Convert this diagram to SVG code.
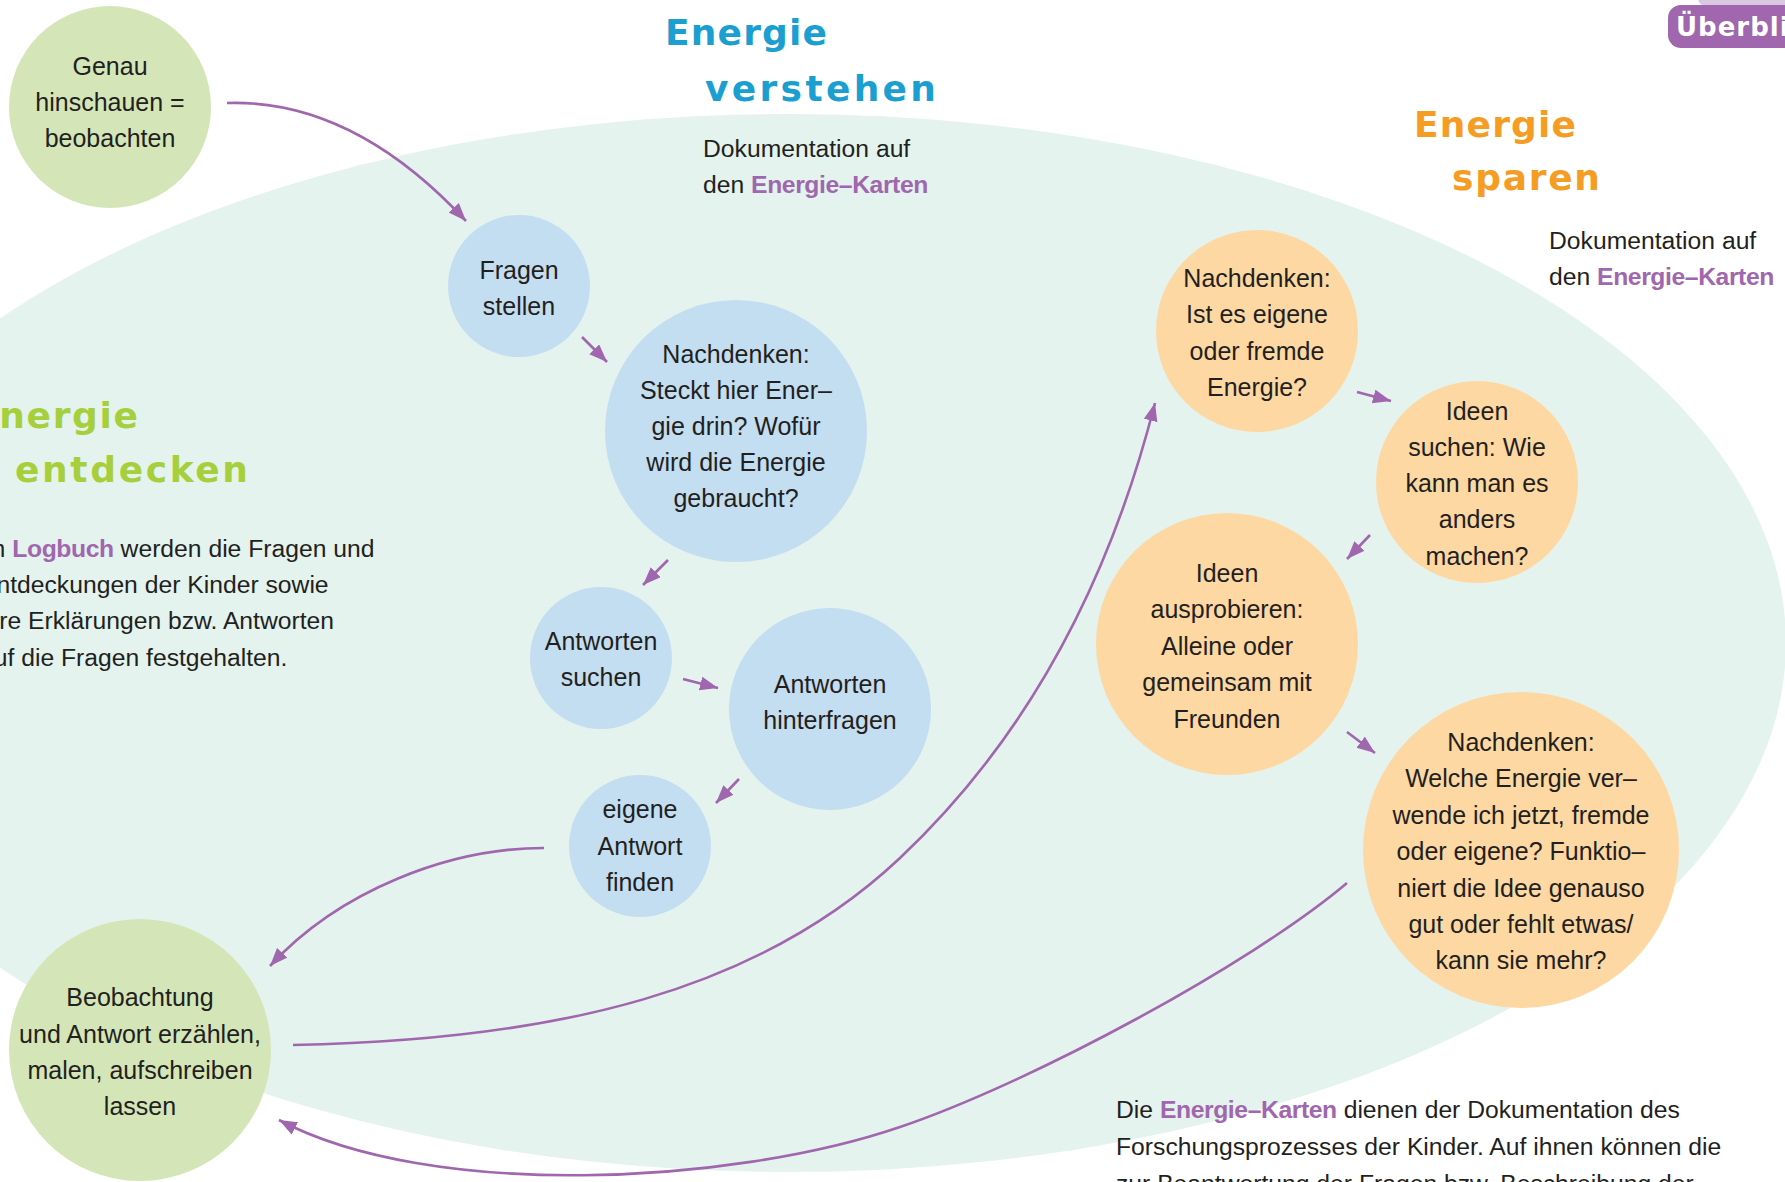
<svg xmlns="http://www.w3.org/2000/svg" width="1785" height="1182" viewBox="0 0 1785 1182">
<style>
.t{font-family:"Liberation Sans",Arial,sans-serif;font-size:25px;fill:#231f20;text-anchor:middle}
.p{font-family:"Liberation Sans",Arial,sans-serif;font-size:24.7px;fill:#231f20}
.k{font-weight:bold;fill:#a066ae;letter-spacing:-0.4px}
.h{font-family:"DejaVu Sans",sans-serif;font-weight:bold;font-size:36px}
.blue{fill:#c3ddf1}.org{fill:#fdd8a2}.grn{fill:#d4e6b8}
.c{fill:none;stroke:#a066ae;stroke-width:2.6}
</style>
<defs>
<marker id="ah" markerUnits="userSpaceOnUse" markerWidth="20" markerHeight="16" refX="18" refY="7" orient="auto"><path d="M0,0 L18,7 L0,14 z" fill="#a066ae"/></marker>
</defs>
<rect width="1785" height="1182" fill="#ffffff"/>
<ellipse cx="788" cy="643" rx="998" ry="529" fill="#e4f3ee"/>

<g id="tab">
<rect x="1698" y="-12" width="120" height="18" rx="8" fill="#dac8e3"/>
<rect x="1668" y="5" width="150" height="43" rx="13" fill="#a066ae"/>
<text x="1676" y="36" font-family="DejaVu Sans,sans-serif" font-weight="bold" font-size="26" fill="#ffffff" letter-spacing="1">Überblick</text>
</g>

<g id="title-verstehen">
<text class="h" x="665" y="45" fill="#1a9fd0" textLength="162" lengthAdjust="spacing">Energie</text>
<text class="h" x="705" y="101" fill="#1a9fd0" textLength="231" lengthAdjust="spacing">verstehen</text>
</g>
<g id="title-sparen">
<text class="h" x="1414" y="137" fill="#f59c23" textLength="162" lengthAdjust="spacing">Energie</text>
<text class="h" x="1452" y="190" fill="#f59c23" textLength="148" lengthAdjust="spacing">sparen</text>
</g>
<g id="title-entdecken">
<text class="h" x="-27" y="428" fill="#a6cf3c" textLength="165" lengthAdjust="spacing">Energie</text>
<text class="h" x="15" y="482" fill="#a6cf3c" textLength="233" lengthAdjust="spacing">entdecken</text>
</g>

<g id="doc-verstehen">
<text class="p" x="703" y="157">Dokumentation auf</text>
<text class="p" x="703" y="193">den <tspan class="k">Energie–Karten</tspan></text>
</g>
<g id="doc-sparen">
<text class="p" x="1549" y="249">Dokumentation auf</text>
<text class="p" x="1549" y="285">den <tspan class="k">Energie–Karten</tspan></text>
</g>
<g id="logbuch-text">
<text class="p" x="-22" y="557">Im <tspan class="k">Logbuch</tspan> werden die Fragen und</text>
<text class="p" x="-20" y="593">Entdeckungen der Kinder sowie</text>
<text class="p" x="-20" y="629">ihre Erklärungen bzw. Antworten</text>
<text class="p" x="-20" y="666">auf die Fragen festgehalten.</text>
</g>
<g id="karten-text">
<text class="p" x="1116" y="1118">Die <tspan class="k">Energie–Karten</tspan> dienen der Dokumentation des</text>
<text class="p" x="1116" y="1155">Forschungsprozesses der Kinder. Auf ihnen können die</text>
<text class="p" x="1116" y="1192">zur Beantwortung der Fragen bzw. Beschreibung der</text>
</g>

<g id="n-genau">
<circle class="grn" cx="110" cy="107" r="101"/>
<text class="t" x="110" y="75">Genau</text>
<text class="t" x="110" y="111">hinschauen =</text>
<text class="t" x="110" y="147">beobachten</text>
</g>
<g id="n-fragen">
<circle class="blue" cx="519" cy="286" r="71"/>
<text class="t" x="519" y="279">Fragen</text>
<text class="t" x="519" y="315">stellen</text>
</g>
<g id="n-nachdenken1">
<circle class="blue" cx="736" cy="431" r="131"/>
<text class="t" x="736" y="363">Nachdenken:</text>
<text class="t" x="736" y="399">Steckt hier Ener–</text>
<text class="t" x="736" y="435">gie drin? Wofür</text>
<text class="t" x="736" y="471">wird die Energie</text>
<text class="t" x="736" y="507">gebraucht?</text>
</g>
<g id="n-suchen">
<circle class="blue" cx="601" cy="658" r="71"/>
<text class="t" x="601" y="650">Antworten</text>
<text class="t" x="601" y="686">suchen</text>
</g>
<g id="n-hinterfragen">
<circle class="blue" cx="830" cy="709" r="101"/>
<text class="t" x="830" y="693">Antworten</text>
<text class="t" x="830" y="729">hinterfragen</text>
</g>
<g id="n-eigene">
<circle class="blue" cx="640" cy="846" r="71"/>
<text class="t" x="640" y="818">eigene</text>
<text class="t" x="640" y="855">Antwort</text>
<text class="t" x="640" y="891">finden</text>
</g>
<g id="n-beobachtung">
<circle class="grn" cx="140" cy="1050" r="131"/>
<text class="t" x="140" y="1006">Beobachtung</text>
<text class="t" x="140" y="1043">und Antwort erzählen,</text>
<text class="t" x="140" y="1079">malen, aufschreiben</text>
<text class="t" x="140" y="1115">lassen</text>
</g>
<g id="n-nachdenken2">
<circle class="org" cx="1257" cy="331" r="101"/>
<text class="t" x="1257" y="287">Nachdenken:</text>
<text class="t" x="1257" y="323">Ist es eigene</text>
<text class="t" x="1257" y="360">oder fremde</text>
<text class="t" x="1257" y="396">Energie?</text>
</g>
<g id="n-ideensuchen">
<circle class="org" cx="1477" cy="482" r="101"/>
<text class="t" x="1477" y="420">Ideen</text>
<text class="t" x="1477" y="456">suchen: Wie</text>
<text class="t" x="1477" y="492">kann man es</text>
<text class="t" x="1477" y="528">anders</text>
<text class="t" x="1477" y="565">machen?</text>
</g>
<g id="n-ausprobieren">
<circle class="org" cx="1227" cy="644" r="131"/>
<text class="t" x="1227" y="582">Ideen</text>
<text class="t" x="1227" y="618">ausprobieren:</text>
<text class="t" x="1227" y="655">Alleine oder</text>
<text class="t" x="1227" y="691">gemeinsam mit</text>
<text class="t" x="1227" y="728">Freunden</text>
</g>
<g id="n-nachdenken3">
<circle class="org" cx="1521" cy="850" r="158"/>
<text class="t" x="1521" y="751">Nachdenken:</text>
<text class="t" x="1521" y="787">Welche Energie ver–</text>
<text class="t" x="1521" y="824">wende ich jetzt, fremde</text>
<text class="t" x="1521" y="860">oder eigene? Funktio–</text>
<text class="t" x="1521" y="897">niert die Idee genauso</text>
<text class="t" x="1521" y="933">gut oder fehlt etwas/</text>
<text class="t" x="1521" y="969">kann sie mehr?</text>
</g>

<g id="connectors">
<path class="c" marker-end="url(#ah)" d="M227,103 C320,100 400,150 466,221"/>
<path class="c" marker-end="url(#ah)" d="M582,337 L607,362"/>
<path class="c" marker-end="url(#ah)" d="M668,560 L643,585"/>
<path class="c" marker-end="url(#ah)" d="M683,679 L718,688"/>
<path class="c" marker-end="url(#ah)" d="M739,779 L716,803"/>
<path class="c" marker-end="url(#ah)" d="M544,848 C450,848 340,890 270,966"/>
<path class="c" marker-end="url(#ah)" d="M293,1045 C560,1040 760,990 900,858 S1115,560 1155,403"/>
<path class="c" marker-end="url(#ah)" d="M1357,392 L1391,401"/>
<path class="c" marker-end="url(#ah)" d="M1370,535 L1347,559"/>
<path class="c" marker-end="url(#ah)" d="M1347,732 L1375,753"/>
<path class="c" marker-end="url(#ah)" d="M1347,883 C1250,965 1030,1083 900,1127 C730,1185 430,1200 279,1120"/>
</g>
</svg>
